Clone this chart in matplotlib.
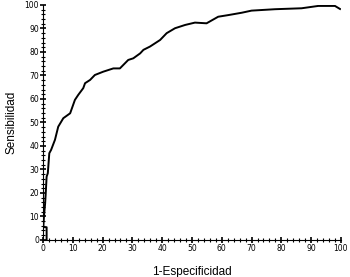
import matplotlib
matplotlib.use("Agg")
import matplotlib.pyplot as plt
from matplotlib.ticker import MultipleLocator

# 1-Especificidad (x) and Sensibilidad (y)
fpr = [1.2, 1.2, 0.1, 0.3, 0.7, 0.9, 1.2, 1.6, 2.1, 2.7, 4.0, 5.1, 6.8, 9.1,
       10.7, 11.8, 13.5, 14.1, 15.8, 17.4, 20.2, 23.6, 25.8, 28.6, 30.3,
       32.6, 33.7, 35.9, 39.3, 41.5, 44.3, 47.7, 51.0, 54.9, 58.8, 62.2,
       66.7, 70.0, 77.9, 86.8, 92.4, 98.0, 99.7]
sens = [0.0, 5.4, 5.4, 9.9, 15.6, 19.9, 26.9, 28.4, 36.9, 38.3, 42.6, 48.2,
        51.8, 53.9, 59.6, 61.7, 64.6, 66.7, 68.1, 70.2, 71.6, 73.0, 73.0,
        76.6, 77.3, 79.4, 80.9, 82.3, 85.1, 88.0, 90.1, 91.5, 92.5, 92.2,
        95.0, 95.7, 96.7, 97.6, 98.2, 98.6, 99.6, 99.6, 98.3]

fig = plt.figure(figsize=(3.5, 2.77), dpi=100)
ax = fig.add_axes([0.123, 0.134, 0.851, 0.848])

ax.plot(fpr, sens, color='black', linewidth=1.4)

ax.set_xlim(0, 100)
ax.set_ylim(0, 100)
ax.spines['top'].set_visible(False)
ax.spines['right'].set_visible(False)

ax.xaxis.set_major_locator(MultipleLocator(10))
ax.xaxis.set_minor_locator(MultipleLocator(2))
ax.yaxis.set_major_locator(MultipleLocator(10))
ax.yaxis.set_minor_locator(MultipleLocator(2))
ax.tick_params(which='major', direction='inout', length=4, width=1.2,
               labelsize=5.5, pad=1)
ax.tick_params(which='minor', direction='inout', length=3, width=0.8)

ax.set_xlabel('1-Especificidad', fontsize=8.5, family='Liberation Sans',
              labelpad=9)
ax.set_ylabel('Sensibilidad', fontsize=8.5, family='Liberation Sans',
              labelpad=5)

fig.savefig('out.png', dpi=100)
